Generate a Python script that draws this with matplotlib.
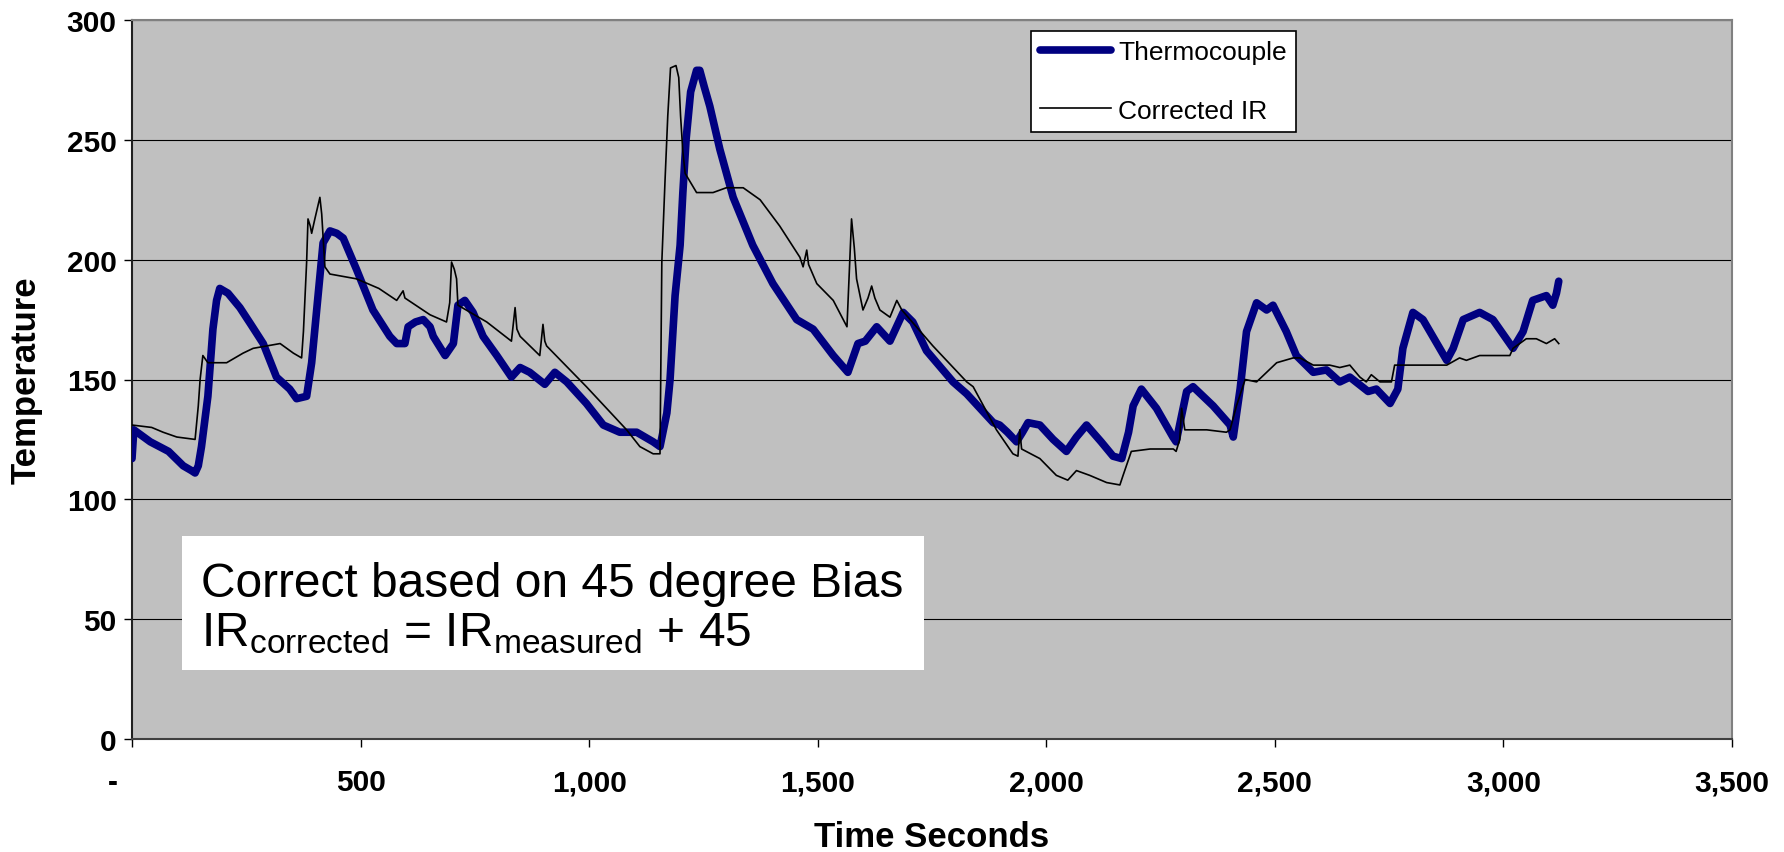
'''
Thermocouple vs corrected IR temperature trace
'''

import matplotlib
matplotlib.use('Agg')
import matplotlib.pyplot as plt
import matplotlib.transforms as mtransforms
from matplotlib.patches import Rectangle

plt.rcParams['font.family'] = ['Liberation Sans', 'DejaVu Sans']
plt.rcParams['mathtext.fontset'] = 'custom'
plt.rcParams['mathtext.rm'] = 'Liberation Sans'
plt.rcParams['mathtext.it'] = 'Liberation Sans'

# Thermocouple trace (time s, temperature)
tc_time = [0, 4, 40, 80, 112, 130, 138, 145, 152, 166, 177, 185, 192, 210, 236, 260, 287,
           316, 345, 360, 382, 393, 407, 418, 433, 448, 462, 491, 527, 564, 579, 597, 604,
           620, 637, 652, 659, 685, 703, 713, 728, 746, 768, 798, 830, 849, 870, 903, 925,
           951, 994, 1031, 1067, 1104, 1140, 1155, 1170, 1177, 1188, 1199, 1205, 1212, 1222,
           1235, 1242, 1252, 1264, 1286, 1315, 1358, 1402, 1454, 1490, 1534, 1566, 1588,
           1604, 1629, 1658, 1687, 1708, 1738, 1796, 1826, 1860, 1884, 1898, 1915, 1935,
           1948, 1960, 1986, 2015, 2044, 2066, 2088, 2120, 2146, 2165, 2180, 2190, 2208,
           2241, 2277, 2284, 2296, 2307, 2321, 2365, 2402, 2409, 2424, 2438, 2460, 2482,
           2496, 2525, 2547, 2584, 2613, 2642, 2664, 2704, 2722, 2752, 2769, 2780, 2802,
           2824, 2876, 2890, 2912, 2948, 2977, 3021, 3043, 3064, 3094, 3108, 3116, 3121]
tc_temp = [117, 129, 124, 120, 114, 112, 111, 114, 122, 143, 171, 183, 188, 186, 180, 173, 165,
           151, 146, 142, 143, 157, 185, 207, 212, 211, 209, 196, 179, 168, 165, 165, 172,
           174, 175, 172, 168, 160, 165, 181, 183, 178, 168, 160, 151, 155, 153, 148, 153,
           149, 140, 131, 128, 128, 124, 122, 136, 150, 185, 206, 228, 250, 270,
           279, 279, 272, 264, 246, 226, 206, 190, 175, 171, 160, 153, 165,
           166, 172, 166, 178, 174, 162, 149, 144, 137, 132, 131, 128, 124,
           128, 132, 131, 125, 120, 126, 131, 124, 118, 117, 128, 139, 146,
           138, 126, 124, 135, 145, 147, 139, 131, 126, 146, 170, 182, 179,
           181, 170, 160, 153, 154, 149, 151, 145, 146, 140, 146, 163, 178,
           175, 158, 163, 175, 178, 175, 163, 170, 183, 185, 181, 186, 191]

# Corrected IR trace (measured + 45)
ir_time = [0, 43, 68, 98, 138, 145, 149, 155, 166, 207, 243, 265, 324, 353, 371, 375, 382,
           385, 390, 393, 400, 411, 415, 422, 433, 491, 540, 579, 593, 597, 652, 688, 695,
           699, 705, 710, 713, 776, 830, 838, 842, 849, 892, 899, 903, 907, 958, 994, 1038,
           1082, 1111, 1140, 1155, 1159, 1166, 1172, 1178, 1190, 1196, 1200, 1205, 1210,
           1235, 1271, 1300, 1337, 1374, 1417, 1461, 1468, 1476, 1480, 1498, 1534, 1564,
           1568, 1574, 1580, 1585, 1599, 1610, 1618, 1625, 1636, 1658, 1673, 1684, 1752,
           1826, 1840, 1891, 1927, 1938, 1942, 1946, 1986, 2022, 2047, 2066, 2095, 2132,
           2161, 2168, 2186, 2227, 2278, 2284, 2292, 2296, 2303, 2351, 2394, 2402, 2416,
           2435, 2460, 2482, 2504, 2540, 2555, 2584, 2620, 2642, 2664, 2686, 2700, 2711,
           2730, 2755, 2762, 2802, 2876, 2904, 2919, 2948, 3014, 3021, 3050, 3072, 3094,
           3112, 3121]
ir_temp = [131, 130, 128, 126, 125, 139, 150, 160, 157, 157, 161, 163, 165, 161, 159, 170, 199,
           217, 214, 211, 217, 226, 219, 197, 194, 192, 188, 183, 187, 184, 177, 174, 182,
           199, 196, 192, 181, 174, 166, 180, 171, 168, 160, 173, 166, 164, 154, 147, 138,
           129, 122, 119, 119, 199, 233, 260, 280, 281, 276, 260, 245, 236,
           228, 228, 230, 230, 225, 214, 201, 197, 204, 198, 190, 183, 172,
           190, 217, 205, 192, 179, 184, 189, 184, 179, 176, 183, 179, 164,
           149, 147, 129, 119, 118, 129, 121, 117, 110, 108, 112, 110, 107,
           106, 110, 120, 121, 121, 120, 125, 138, 129, 129, 128, 129, 139,
           150, 149, 153, 157, 159, 159, 156, 156, 155, 156, 151, 149, 152,
           149, 149, 156, 156, 156, 159, 158, 160, 160, 163, 167, 167, 165,
           167, 165]

x_ticks = [0, 500, 1000, 1500, 2000, 2500, 3000, 3500]
x_tick_labels = ['-', '500', '1,000', '1,500', '2,000', '2,500', '3,000', '3,500']
y_ticks = [0, 50, 100, 150, 200, 250, 300]

W, H = 1784, 853
fig = plt.figure(figsize=(W / 100, H / 100), dpi=100)
ax = fig.add_axes([132 / W, 1 - 740 / H, 1600 / W, 719 / H])
ax.set_facecolor('#C0C0C0')

ax.plot(tc_time, tc_temp, color='#000080', lw=5.5, solid_capstyle='round',
        solid_joinstyle='round', label='Thermocouple', zorder=3)
ax.plot(ir_time, ir_temp, color='black', lw=1.2, label='Corrected IR', zorder=4)

ax.set_xlim(0, 3500)
ax.set_ylim(0, 300)
ax.set_xticks(x_ticks)
ax.set_xticklabels(x_tick_labels)
ax.set_yticks(y_ticks)
ax.yaxis.grid(True, color='black', lw=0.8)
ax.set_axisbelow(True)

ax.tick_params(axis='both', direction='out', length=6, width=1, labelsize=21.5)
ax.tick_params(axis='x', pad=15)
ax.tick_params(axis='y', pad=5)
for lab in ax.get_xticklabels() + ax.get_yticklabels():
    lab.set_fontweight('bold')

# shift the "-" label left like the original
dash = ax.get_xticklabels()[0]
dash.set_transform(dash.get_transform() + mtransforms.ScaledTranslation(-14 / 72, 0, fig.dpi_scale_trans))

ax.spines['left'].set_color('#202020')
ax.spines['bottom'].set_color('#404040')
ax.spines['top'].set_color('#808080')
ax.spines['right'].set_color('#808080')
for s in ax.spines.values():
    s.set_linewidth(1.5)

ax.set_xlabel('Time Seconds', fontsize=25, fontweight='bold')
ax.set_ylabel('Temperature', fontsize=25, fontweight='bold')
ax.xaxis.set_label_coords(0.5, -0.113)
ax.yaxis.set_label_coords(-0.056, 0.5)

leg = ax.legend(loc='upper left', bbox_to_anchor=(1031 / W, 1 - 32 / H),
                bbox_transform=fig.transFigure, fontsize=19, frameon=True, fancybox=False,
                edgecolor='black', facecolor='white', framealpha=1, borderaxespad=0,
                borderpad=0.35, labelspacing=1.3, handlelength=2.7, handletextpad=0.25)
leg.get_frame().set_linewidth(1.2)

# annotation box
fig.patches.append(Rectangle((182 / W, 1 - 671 / H), (924 - 182) / W, (671 - 537) / H,
                             transform=fig.transFigure, facecolor='white', edgecolor='none',
                             zorder=5))
fig.text(201 / W, 1 - 597 / H, 'Correct based on 45 degree Bias', fontsize=34.5,
         va='baseline', ha='left', zorder=6)
fig.text(201 / W, 1 - 646 / H, r'IR$_{\mathrm{corrected}}$ = IR$_{\mathrm{measured}}$ + 45',
         fontsize=34.5, va='baseline', ha='left', zorder=6)

fig.savefig('out.png', dpi=100)
